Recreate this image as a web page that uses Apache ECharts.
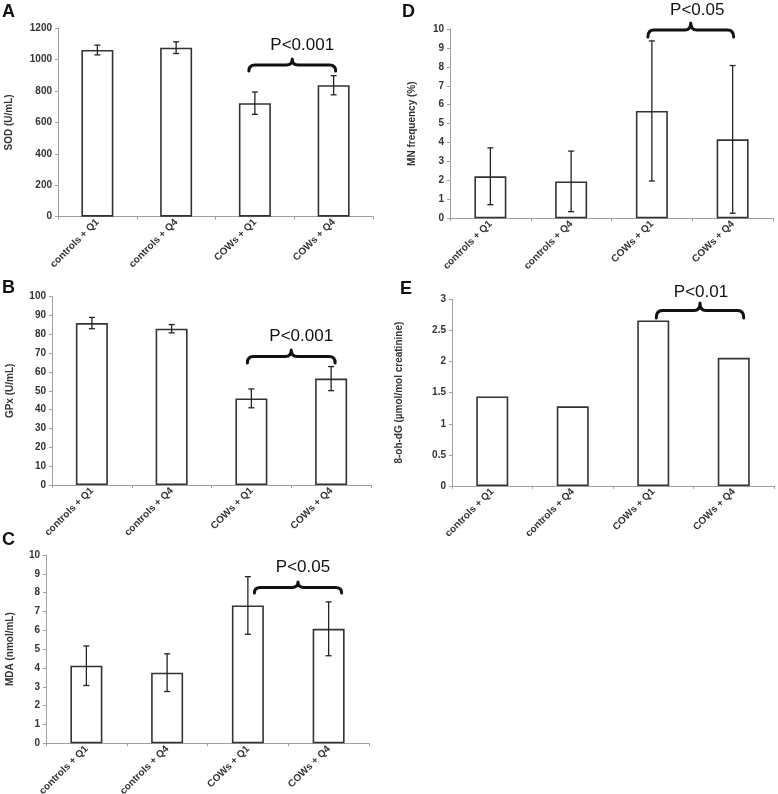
<!DOCTYPE html>
<html>
<head>
<meta charset="utf-8">
<script src="https://cdn.jsdelivr.net/npm/echarts@6/dist/echarts.min.js"></script>
<style>
html,body{margin:0;padding:0;background:#fff;}
#chart{width:778px;height:794px;}
</style>
</head>
<body>
<div id="chart"></div>
<script>
// ---- data ----
const categories = ['controls + Q1', 'controls + Q4', 'COWs + Q1', 'COWs + Q4'];
const sodMean = [1060, 1075, 722, 836];
const sodErr = [31, 37, 71, 61];
const gpxMean = [86, 83, 46, 56.5];
const gpxErr = [3, 2.2, 5, 6.4];
const mdaMean = [4.12, 3.75, 7.32, 6.08];
const mdaErr = [1.05, 1.0, 1.53, 1.43];
const mnMean = [2.22, 1.95, 5.67, 4.17];
const mnErr = [1.5, 1.6, 3.7, 3.9];
const ohdgMean = [1.44, 1.28, 2.66, 2.06];
const pLabels = ['P<0.001', 'P<0.001', 'P<0.05', 'P<0.05', 'P<0.01'];
const braceLevels = [926, 64.8, 7.98, 9.58, 2.70];

// ---- layout ----
const panels = [
  {letter: 'A', lx: 2, ly: 3, yName: 'SOD (U/mL)', mean: sodMean, err: sodErr, max: 1200, interval: 200,
   grid: {left: 58, top: 28, width: 315, height: 188.7}, nameGap: 44,
   brace: {lOff: -6, rOff: 2, h: 12, tdx: 10, tdy: -14}},
  {letter: 'B', lx: 2, ly: 279, yName: 'GPx (U/mL)', mean: gpxMean, err: gpxErr, max: 100, interval: 10,
   grid: {left: 52, top: 296.7, width: 319, height: 188.3}, nameGap: 37,
   brace: {lOff: -4, rOff: 4, h: 13, tdx: 10, tdy: -14}},
  {letter: 'C', lx: 2, ly: 531, yName: 'MDA (nmol/mL)', mean: mdaMean, err: mdaErr, max: 10, interval: 1,
   grid: {left: 46, top: 555, width: 323, height: 188.3}, nameGap: 31,
   brace: {lOff: 6.5, rOff: 13, h: 11, tdx: 5, tdy: -15}},
  {letter: 'D', lx: 402, ly: 3, yName: 'MN frequency (%)', mean: mnMean, err: mnErr, max: 10, interval: 1,
   grid: {left: 450, top: 29, width: 323, height: 189.3}, nameGap: 33,
   brace: {lOff: -4, rOff: 1, h: 14, tdx: 6.5, tdy: -13}},
  {letter: 'E', lx: 400, ly: 280, yName: '8-oh-dG (µmol/mol creatinine)', mean: ohdgMean, err: null, max: 3, interval: 0.5,
   grid: {left: 452, top: 299.3, width: 322, height: 186.7}, nameGap: 48,
   brace: {lOff: 3, rOff: 10, h: 15, tdx: 1, tdy: -11}}
];

const FONT = 'Liberation Sans, Arial, sans-serif';
const grids = [], xAxes = [], yAxes = [], series = [], graphics = [];

panels.forEach(function (p, i) {
  grids.push(Object.assign({containLabel: false, outerBoundsMode: 'none'}, p.grid));
  xAxes.push({
    type: 'category', gridIndex: i, data: categories,
    axisLine: {lineStyle: {color: '#a0a0a0', width: 1}},
    axisTick: {show: true, length: 3, lineStyle: {color: '#a0a0a0'}},
    axisLabel: {rotate: 45, fontSize: 10, fontWeight: 'bold', color: '#333', fontFamily: FONT, margin: 4, interval: 0}
  });
  yAxes.push({
    type: 'value', gridIndex: i, min: 0, max: p.max, interval: p.interval,
    name: p.yName, nameLocation: 'middle', nameGap: p.nameGap, nameRotate: 90,
    nameTextStyle: {fontSize: 10, fontWeight: 'bold', color: '#333', fontFamily: FONT},
    axisLine: {show: true, lineStyle: {color: '#a0a0a0', width: 1}},
    axisTick: {show: true, length: 3, lineStyle: {color: '#a0a0a0'}},
    splitLine: {show: false},
    axisLabel: {fontSize: 10, fontWeight: 'bold', color: '#333', fontFamily: FONT, margin: 6,
      formatter: function (v) { return String(v); }}
  });
  series.push({
    type: 'bar', xAxisIndex: i, yAxisIndex: i, data: p.mean, barWidth: 32, z: 2,
    itemStyle: {color: '#fff', borderColor: '#333', borderWidth: 1.6},
    silent: true, animation: false
  });
  if (p.err) {
    const errData = p.mean.map(function (m, k) { return [k, m - p.err[k], m + p.err[k]]; });
    series.push({
      type: 'custom', xAxisIndex: i, yAxisIndex: i, data: errData, animation: false, silent: true, z: 10,
      renderItem: function (params, api) {
        const lo = api.coord([api.value(0), api.value(1)]);
        const hi = api.coord([api.value(0), api.value(2)]);
        const cw = 3;
        const st = {stroke: '#222', lineWidth: 1.3, fill: null};
        return {type: 'group', children: [
          {type: 'line', shape: {x1: lo[0], y1: lo[1], x2: hi[0], y2: hi[1]}, style: st},
          {type: 'line', shape: {x1: lo[0] - cw, y1: lo[1], x2: lo[0] + cw, y2: lo[1]}, style: st},
          {type: 'line', shape: {x1: hi[0] - cw, y1: hi[1], x2: hi[0] + cw, y2: hi[1]}, style: st}
        ]};
      }
    });
  }
  const b = p.brace;
  series.push({
    type: 'custom', xAxisIndex: i, yAxisIndex: i, data: [[2, 3, braceLevels[i]]], animation: false, silent: true, z: 10,
    renderItem: function (params, api) {
      const a = api.coord([api.value(0), api.value(2)]);
      const c = api.coord([api.value(1), api.value(2)]);
      const xL = a[0] + b.lOff, xR = c[0] + b.rOff, y0 = a[1];
      const yM = y0 - b.h / 2, yT = y0 - b.h, xm = (xL + xR) / 2, r = 6;
      const d = 'M' + xL + ' ' + y0 + ' Q' + xL + ' ' + yM + ' ' + (xL + r) + ' ' + yM +
        ' L' + (xm - r) + ' ' + yM + ' Q' + xm + ' ' + yM + ' ' + xm + ' ' + yT +
        ' Q' + xm + ' ' + yM + ' ' + (xm + r) + ' ' + yM +
        ' L' + (xR - r) + ' ' + yM + ' Q' + xR + ' ' + yM + ' ' + xR + ' ' + y0;
      return {type: 'group', children: [
        {type: 'path', shape: {pathData: d}, style: {stroke: '#111', lineWidth: 3, fill: null, lineCap: 'round', lineJoin: 'round'}},
        {type: 'text', x: xm + b.tdx, y: yT + b.tdy,
         style: {text: pLabels[i], fontSize: 17, fontFamily: FONT, fill: '#111', align: 'center', verticalAlign: 'middle'}}
      ]};
    }
  });
  graphics.push({type: 'text', left: p.lx, top: p.ly,
    style: {text: p.letter, fontSize: 18, fontWeight: 'bold', fontFamily: FONT, fill: '#111'}});
});

const chart = echarts.init(document.getElementById('chart'), null, {renderer: 'canvas'});
chart.setOption({
  animation: false,
  backgroundColor: '#fff',
  grid: grids, xAxis: xAxes, yAxis: yAxes, series: series, graphic: graphics
});
</script>
</body>
</html>
